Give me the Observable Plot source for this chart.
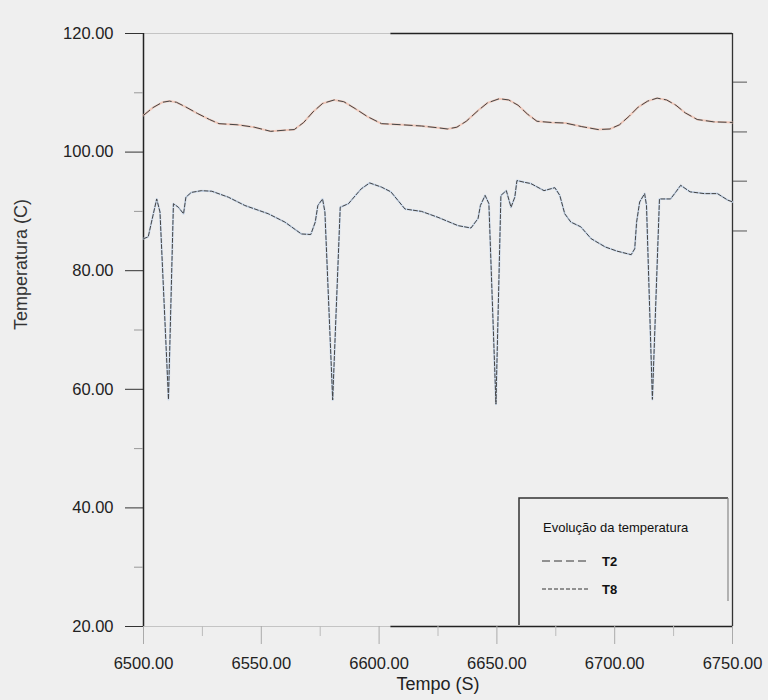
<!DOCTYPE html>
<html>
<head>
<meta charset="utf-8">
<script src="https://cdn.jsdelivr.net/npm/d3@7"></script>
<script src="https://cdn.jsdelivr.net/npm/@observablehq/plot@0.6"></script>
<style>
  html, body { margin: 0; padding: 0; background: #efefef; }
  #wrap { position: relative; width: 768px; height: 700px; }
  #legend { position: absolute; left: 518px; top: 497px; }
  svg text { font-family: "Liberation Sans", Arial, sans-serif; }
</style>
</head>
<body>
<div id="wrap"></div>
<script>
// Temperature readings, T2 (upper sensor) and T8 (lower sensor)
const t2Time = [6500, 6504, 6508, 6511, 6514, 6518, 6523, 6528, 6532, 6540, 6547, 6554, 6560, 6564,
  6568, 6572, 6576, 6581, 6585, 6590, 6595, 6601, 6610, 6618, 6625, 6629, 6633, 6637, 6642, 6646,
  6651, 6655, 6659, 6663, 6667, 6673, 6679, 6686, 6693, 6698, 6702, 6706, 6710, 6714, 6718, 6722,
  6726, 6730, 6735, 6742, 6750];
const t2Temp = [106.2, 107.5, 108.4, 108.6, 108.4, 107.6, 106.5, 105.5, 104.8, 104.6, 104.2, 103.5, 103.7, 103.8,
  105.0, 106.8, 108.2, 108.8, 108.5, 107.3, 106.0, 104.8, 104.6, 104.4, 104.1, 103.9, 104.2, 105.2, 107.0, 108.3,
  109.0, 108.8, 107.9, 106.4, 105.2, 105.0, 104.9, 104.3, 103.8, 103.9, 104.6, 106.0, 107.6, 108.6, 109.1, 108.8,
  107.9, 106.6, 105.5, 105.1, 105.0];

const t8Time = [6500, 6502, 6503.4, 6505.6, 6507, 6510.6, 6512.7, 6514.8, 6517, 6518, 6520.3, 6524.6, 6529,
  6536, 6543, 6553, 6560, 6567, 6571, 6572.9, 6574, 6576, 6577, 6580.3, 6583.5, 6587, 6590, 6592.4, 6596,
  6601, 6605, 6611, 6618, 6625, 6633.5, 6639, 6642, 6643, 6645, 6646.6, 6649.6, 6651.7, 6654, 6656, 6657.6,
  6658.5, 6661.8, 6664.4, 6670, 6674.6, 6676.7, 6678.8, 6681.4, 6685.6, 6690, 6696, 6701, 6707, 6708.5,
  6709.3, 6710.6, 6712.7, 6713.5, 6716, 6719, 6723.7, 6726, 6728, 6732, 6738, 6743.6, 6748, 6750];
const t8Temp = [85.4, 85.7, 88.2, 92.1, 89.9, 58.3, 91.3, 90.7, 89.6, 92.4, 93.2, 93.5, 93.4,
  92.4, 91.0, 89.6, 88.2, 86.2, 86.1, 88.2, 91.0, 92.1, 89.9, 58.2, 90.7, 91.3, 92.7, 93.8, 94.8,
  94.1, 93.3, 90.4, 90.0, 89.0, 87.6, 87.2, 88.8, 91.0, 92.7, 91.3, 57.5, 92.7, 93.5, 90.7, 92.4,
  95.2, 94.9, 94.7, 93.5, 94.0, 92.7, 89.6, 88.2, 87.4, 85.4, 84.0, 83.3, 82.7, 83.7,
  88.2, 91.6, 93.0, 91.0, 58.3, 92.1, 92.1, 93.3, 94.4, 93.3, 93.0, 93.0, 91.9, 91.6];

const seriesNames = ["T2", "T8"];
const xDomain = [6500, 6750];
const yDomain = [20, 120];
const xTicks = [6500, 6550, 6600, 6650, 6700, 6750];
const xMinorTicks = [6525, 6575, 6625, 6675, 6725];
const yTicks = [20, 40, 60, 80, 100, 120];
const yMinorTicks = [30, 50, 70, 90, 110];
const rightTicks = [111.8, 103.4, 95.1, 86.7];
const xTitle = "Tempo (S)";
const yTitle = "Temperatura (C)";
const legendTitle = "Evolução da temperatura";

const t2 = t2Time.map((t, i) => ({t, v: t2Temp[i]}));
const t8 = t8Time.map((t, i) => ({t, v: t8Temp[i]}));

const dashes = {T2: "8,4", T8: "4,2"};
const halo = {T2: "#f0bfae", T8: "#c2d5ec"};
const fmt = d3.format(".2f");

const chart = Plot.plot({
  width: 768,
  height: 700,
  marginLeft: 143,
  marginRight: 36,
  marginTop: 33,
  marginBottom: 74,
  x: {domain: xDomain},
  y: {domain: yDomain},
  style: {background: "transparent", fontFamily: "Liberation Sans, Arial, sans-serif", fontSize: "16.5px", color: "#222"},
  marks: [
    // frame: faint on the left half of top/bottom, solid elsewhere
    Plot.ruleY([yDomain[1]], {x1: xDomain[0], x2: 6605, stroke: "#c4c4c4", strokeWidth: 1.2}),
    Plot.ruleY([yDomain[1]], {x1: 6605, x2: xDomain[1], stroke: "#222", strokeWidth: 1.5}),
    Plot.ruleY([yDomain[0]], {x1: xDomain[0], x2: 6605, stroke: "#c4c4c4", strokeWidth: 1.2}),
    Plot.ruleY([yDomain[0]], {x1: 6605, x2: xDomain[1], stroke: "#222", strokeWidth: 1.5}),
    Plot.ruleX([xDomain[0]], {stroke: "#222", strokeWidth: 1.5}),
    Plot.ruleX([xDomain[1]], {stroke: "#333", strokeWidth: 1.3}),

    // axes
    Plot.axisY(yTicks, {anchor: "left", tickSize: 18, tickPadding: 12, tickFormat: fmt, label: null, stroke: "#333"}),
    Plot.axisY(yMinorTicks, {anchor: "left", tickSize: 9, tickFormat: () => "", label: null, stroke: "#999"}),
    Plot.axisY(rightTicks, {anchor: "right", tickSize: 14, tickFormat: () => "", label: null, stroke: "#555"}),
    Plot.axisX(xTicks, {anchor: "bottom", tickSize: 18, tickPadding: 13, tickFormat: fmt, label: null, stroke: "#aaa"}),
    Plot.axisX(xMinorTicks, {anchor: "bottom", tickSize: 10, tickFormat: () => "", label: null, stroke: "#bbb"}),

    Plot.text([xTitle], {frameAnchor: "bottom", dy: 63, fontSize: 18, fill: "#222"}),
    Plot.text([yTitle], {frameAnchor: "left", dx: -122, rotate: -90, fontSize: 18, fill: "#333"}),

    // series: soft coloured trace under a dark dashed trace
    Plot.line(t2, {x: "t", y: "v", stroke: halo.T2, strokeWidth: 2, strokeOpacity: 0.8}),
    Plot.line(t2, {x: "t", y: "v", stroke: "#444", strokeWidth: 1, strokeDasharray: dashes.T2}),
    Plot.line(t8, {x: "t", y: "v", stroke: halo.T8, strokeWidth: 2, strokeOpacity: 0.8}),
    Plot.line(t8, {x: "t", y: "v", stroke: "#444", strokeWidth: 1, strokeDasharray: dashes.T8})
  ]
});

const wrap = document.getElementById("wrap");
wrap.appendChild(chart);

// legend box in the lower right corner of the plot area
const leg = d3.select(wrap).append("svg")
  .attr("id", "legend")
  .attr("width", 212)
  .attr("height", 130);
leg.append("path")
  .attr("d", "M1,128 V1 H210")
  .attr("fill", "none").attr("stroke", "#333").attr("stroke-width", 1.5);
leg.append("path")
  .attr("d", "M210,1 V104")
  .attr("fill", "none").attr("stroke", "#888").attr("stroke-width", 1.2);
leg.append("text")
  .attr("x", 25).attr("y", 35)
  .attr("font-size", 13).attr("fill", "#111")
  .text(legendTitle);
seriesNames.forEach((name, i) => {
  const y = 64 + i * 28;
  leg.append("line")
    .attr("x1", 24).attr("x2", 72).attr("y1", y).attr("y2", y)
    .attr("stroke", "#333").attr("stroke-width", 1)
    .attr("stroke-dasharray", dashes[name]);
  leg.append("text")
    .attr("x", 84).attr("y", y + 5)
    .attr("font-size", 13).attr("font-weight", "bold").attr("fill", "#111")
    .text(name);
});
</script>
</body>
</html>
